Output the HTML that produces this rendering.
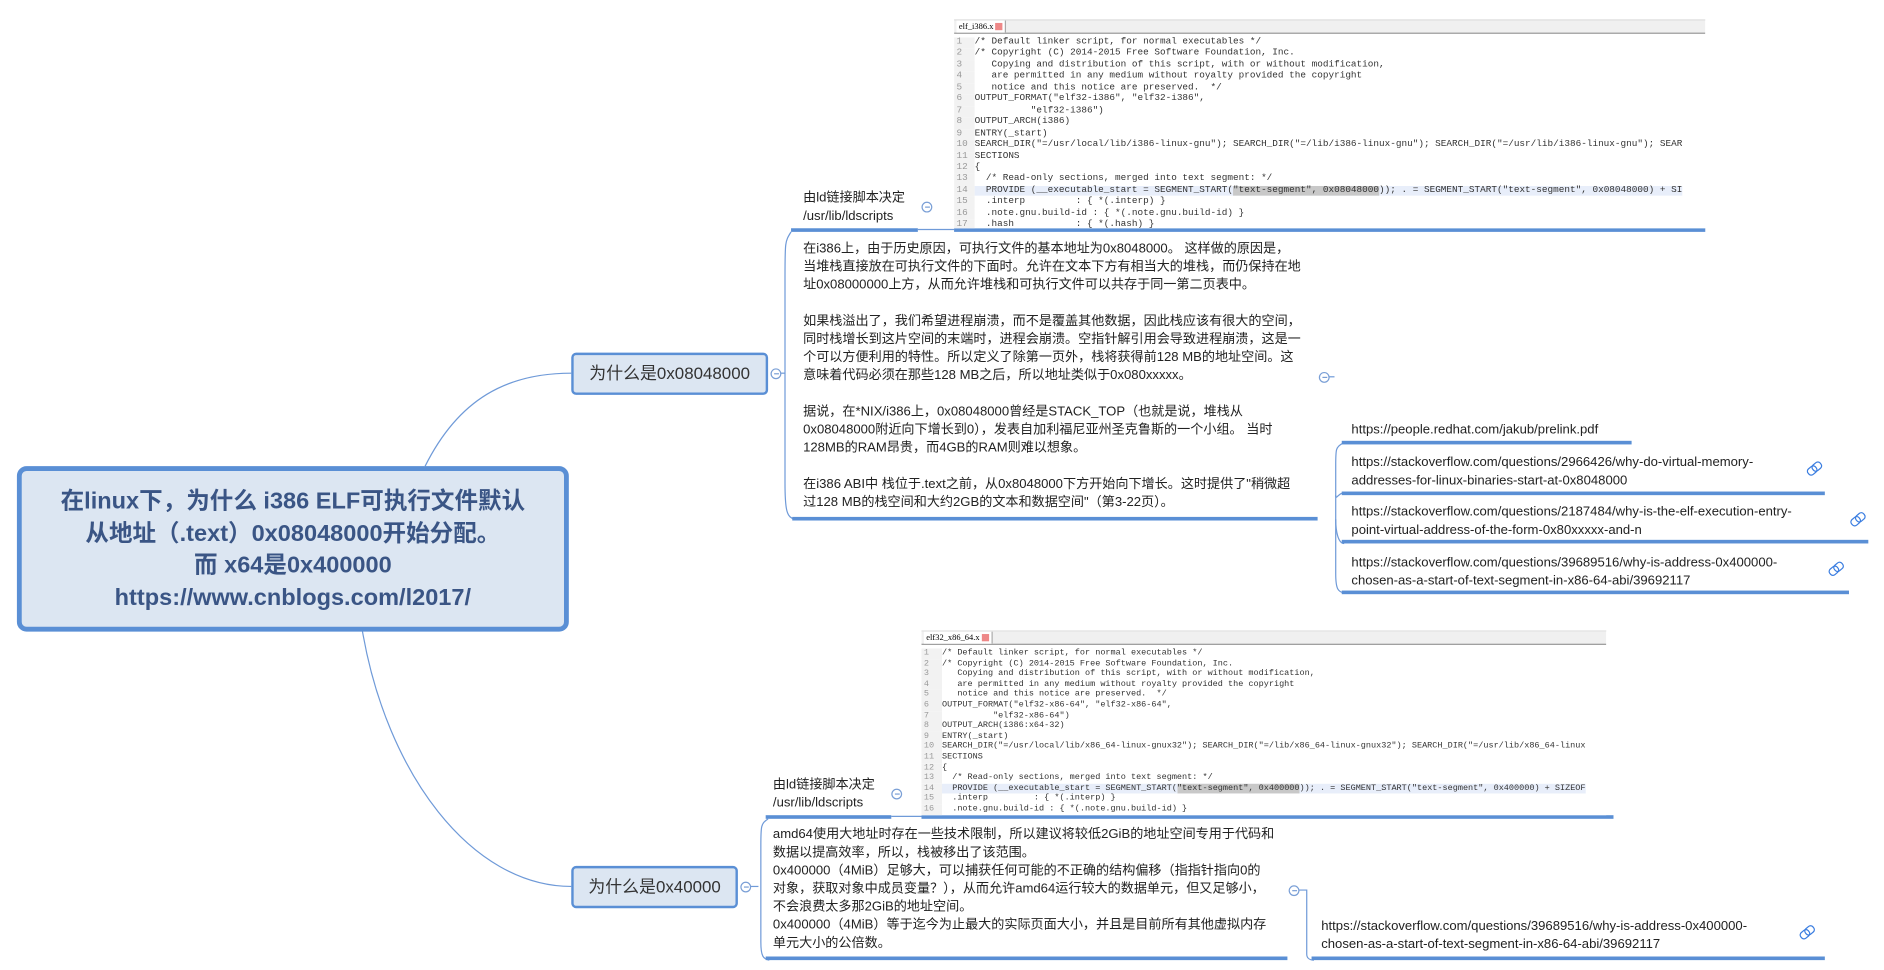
<!DOCTYPE html>
<html><head><meta charset="utf-8"><style>
*{margin:0;padding:0;box-sizing:border-box}
body{width:1884px;height:970px;overflow:hidden;background:#fff;font-family:"Liberation Sans","Noto Sans CJK SC",sans-serif}
#w{position:absolute;left:0;top:0;width:1560px;height:803px;transform:scale(1.2077);transform-origin:0 0}
.a{position:absolute}
.t{font-size:10.85px;line-height:15px;color:#222;white-space:nowrap}
.ul{position:absolute;height:2.5px;background:#5a8fd5}
.c{position:absolute;width:9px;height:9px;border:1px solid #7a9fd6;border-radius:50%;background:#fff}
.c:after{content:"";position:absolute;left:1.5px;top:3px;width:4px;height:1px;background:#7a9fd6}
.code{position:absolute;background:#fff;overflow:hidden;border-top:1px solid #ddd}
.code .hd{height:11px;background:#f0f0f0;border-bottom:1px solid #999;font-family:"Liberation Serif",serif;font-size:7px;line-height:10px;padding-left:2px}
.code .hd span{display:inline-block;background:#fff;border-right:1px solid #aaa;padding:0 2px}
.code .hd b{display:inline-block;width:6px;height:6px;background:#e88;vertical-align:middle}
.code pre{font-family:"Liberation Mono",monospace;color:#333;white-space:pre}
.code .ln{display:inline-block;width:17px;color:#999;background:#f2f2f2;padding-left:2px}
.hl{background:#e8eefa}
.sel{background:#c8c8c8}
.node{position:absolute;background:#dce6f2;border:2px solid #5a8fd5;border-radius:4px;font-size:14px;color:#333;text-align:center;white-space:nowrap}
.lk{position:absolute;width:12px;height:8px;transform:rotate(-40deg)}
.lk:before,.lk:after{content:"";position:absolute;top:0;width:7px;height:5px;border:1.5px solid #3a7de0;border-radius:3px}
.lk:before{left:0}.lk:after{left:5px}
</style></head><body><div id="w">

<svg class="a" style="left:0;top:0" width="1560" height="803">
<g fill="none" stroke="#6f9ad8" stroke-width="1">
<path d="M352 386 C380 330 420 309 473 309"/>
<path d="M300 522 C320 640 390 734 473 734"/>
<path d="M643 309 L650 309"/>
<path d="M655 192 C650 200 650 200 650 230 L650 400 C650 425 652 428 658 430"/>
<path d="M1100 312 L1105 312"/>
<path d="M1112 367 C1106 370 1106 372 1106 385 L1106 475 C1106 488 1108 490 1113 491"/>
<path d="M1106 410 C1106 415 1108 408 1113 408"/>
<path d="M1106 430 C1106 440 1108 450 1113 450"/>
<path d="M618 734 L628 734"/>
<path d="M636 678 C630 682 630 684 630 700 L630 780 C630 792 632 794 637 795"/>
<path d="M1075 737 L1082 737 L1082 790 C1082 793 1084 795 1088 795"/>
<path d="M760 190 L790 190"/>
<path d="M738 676 L763 676"/>
</g></svg>

<div class="a" style="left:14px;top:386px;width:457px;height:137px;background:#dce6f2;border:4px solid #5a8fd5;border-radius:8px;text-align:center;font-weight:bold;font-size:19.5px;line-height:26.5px;color:#3a5585;padding-top:12px">在linux下，为什么 i386 ELF可执行文件默认<br>从地址（.text）0x08048000开始分配。<br>而 x64是0x400000<br>https://www.cnblogs.com/l2017/</div>

<div class="node" style="left:473px;top:292px;width:163px;height:35px;line-height:31px">为什么是0x08048000</div>
<div class="c" style="left:638px;top:305px"></div>
<div class="node" style="left:473px;top:717px;width:138px;height:35px;line-height:31px">为什么是0x40000</div>
<div class="c" style="left:613px;top:730px"></div>

<div class="a t" style="left:665px;top:157px">由ld链接脚本决定<br>/usr/lib/ldscripts</div>
<div class="c" style="left:763px;top:167px"></div>
<div class="ul" style="left:655px;top:189px;width:105px"></div>
<div class="ul" style="left:790px;top:189px;width:622px"></div>

<div class="code" style="left:790px;top:16px;width:622px;height:173px">
<div class="hd"><span>elf_i386.x <b></b></span></div>
<pre style="font-size:7.75px;line-height:9.45px;margin-top:3px"><span class="ln">1</span>/* Default linker script, for normal executables */
<span class="ln">2</span>/* Copyright (C) 2014-2015 Free Software Foundation, Inc.
<span class="ln">3</span>   Copying and distribution of this script, with or without modification,
<span class="ln">4</span>   are permitted in any medium without royalty provided the copyright
<span class="ln">5</span>   notice and this notice are preserved.  */
<span class="ln">6</span>OUTPUT_FORMAT("elf32-i386", "elf32-i386",
<span class="ln">7</span>          "elf32-i386")
<span class="ln">8</span>OUTPUT_ARCH(i386)
<span class="ln">9</span>ENTRY(_start)
<span class="ln">10</span>SEARCH_DIR("=/usr/local/lib/i386-linux-gnu"); SEARCH_DIR("=/lib/i386-linux-gnu"); SEARCH_DIR("=/usr/lib/i386-linux-gnu"); SEAR
<span class="ln">11</span>SECTIONS
<span class="ln">12</span>{
<span class="ln">13</span>  /* Read-only sections, merged into text segment: */
<span class="ln">14</span><span class="hl">  PROVIDE (__executable_start = SEGMENT_START(<span class="sel">"text-segment", 0x08048000</span>)); . = SEGMENT_START("text-segment", 0x08048000) + SI</span>
<span class="ln">15</span>  .interp         : { *(.interp) }
<span class="ln">16</span>  .note.gnu.build-id : { *(.note.gnu.build-id) }
<span class="ln">17</span>  .hash           : { *(.hash) }</pre>
</div>

<div class="a t" style="left:665px;top:199px">在i386上，由于历史原因，可执行文件的基本地址为0x8048000。 这样做的原因是，<br>当堆栈直接放在可执行文件的下面时。允许在文本下方有相当大的堆栈，而仍保持在地<br>址0x08000000上方，从而允许堆栈和可执行文件可以共存于同一第二页表中。<br><br>如果栈溢出了，我们希望进程崩溃，而不是覆盖其他数据，因此栈应该有很大的空间，<br>同时栈增长到这片空间的末端时，进程会崩溃。空指针解引用会导致进程崩溃，这是一<br>个可以方便利用的特性。所以定义了除第一页外，栈将获得前128 MB的地址空间。这<br>意味着代码必须在那些128 MB之后，所以地址类似于0x080xxxxx。<br><br>据说，在*NIX/i386上，0x08048000曾经是STACK_TOP（也就是说，堆栈从<br>0x08048000附近向下增长到0），发表自加利福尼亚州圣克鲁斯的一个小组。 当时<br>128MB的RAM昂贵，而4GB的RAM则难以想象。<br><br>在i386 ABI中 栈位于.text之前，从0x8048000下方开始向下增长。这时提供了"稍微超<br>过128 MB的栈空间和大约2GB的文本和数据空间"（第3-22页）。</div>
<div class="ul" style="left:656px;top:428px;width:435px"></div>
<div class="c" style="left:1092px;top:308px"></div>

<div class="a t" style="left:1119px;top:349px">https://people.redhat.com/jakub/prelink.pdf</div>
<div class="ul" style="left:1111px;top:365px;width:240px"></div>
<div class="a t" style="left:1119px;top:376px">https://stackoverflow.com/questions/2966426/why-do-virtual-memory-<br>addresses-for-linux-binaries-start-at-0x8048000</div>
<div class="lk" style="left:1496px;top:385px"></div>
<div class="ul" style="left:1111px;top:407px;width:400px"></div>
<div class="a t" style="left:1119px;top:417px">https://stackoverflow.com/questions/2187484/why-is-the-elf-execution-entry-<br>point-virtual-address-of-the-form-0x80xxxxx-and-n</div>
<div class="lk" style="left:1532px;top:427px"></div>
<div class="ul" style="left:1111px;top:447px;width:436px"></div>
<div class="a t" style="left:1119px;top:459px">https://stackoverflow.com/questions/39689516/why-is-address-0x400000-<br>chosen-as-a-start-of-text-segment-in-x86-64-abi/39692117</div>
<div class="lk" style="left:1514px;top:468px"></div>
<div class="ul" style="left:1111px;top:489px;width:420px"></div>

<div class="a t" style="left:640px;top:643px">由ld链接脚本决定<br>/usr/lib/ldscripts</div>
<div class="c" style="left:738px;top:653px"></div>
<div class="ul" style="left:634px;top:675px;width:104px"></div>
<div class="ul" style="left:763px;top:675px;width:573px"></div>

<div class="code" style="left:763px;top:522px;width:567px;height:153px">
<div class="hd"><span>elf32_x86_64.x <b></b></span></div>
<pre style="font-size:7.05px;line-height:8.6px;margin-top:3px"><span class="ln">1</span>/* Default linker script, for normal executables */
<span class="ln">2</span>/* Copyright (C) 2014-2015 Free Software Foundation, Inc.
<span class="ln">3</span>   Copying and distribution of this script, with or without modification,
<span class="ln">4</span>   are permitted in any medium without royalty provided the copyright
<span class="ln">5</span>   notice and this notice are preserved.  */
<span class="ln">6</span>OUTPUT_FORMAT("elf32-x86-64", "elf32-x86-64",
<span class="ln">7</span>          "elf32-x86-64")
<span class="ln">8</span>OUTPUT_ARCH(i386:x64-32)
<span class="ln">9</span>ENTRY(_start)
<span class="ln">10</span>SEARCH_DIR("=/usr/local/lib/x86_64-linux-gnux32"); SEARCH_DIR("=/lib/x86_64-linux-gnux32"); SEARCH_DIR("=/usr/lib/x86_64-linux
<span class="ln">11</span>SECTIONS
<span class="ln">12</span>{
<span class="ln">13</span>  /* Read-only sections, merged into text segment: */
<span class="ln">14</span><span class="hl">  PROVIDE (__executable_start = SEGMENT_START(<span class="sel">"text-segment", 0x400000</span>)); . = SEGMENT_START("text-segment", 0x400000) + SIZEOF</span>
<span class="ln">15</span>  .interp         : { *(.interp) }
<span class="ln">16</span>  .note.gnu.build-id : { *(.note.gnu.build-id) }</pre>
</div>

<div class="a t" style="left:640px;top:684px">amd64使用大地址时存在一些技术限制，所以建议将较低2GiB的地址空间专用于代码和<br>数据以提高效率，所以，栈被移出了该范围。<br>0x400000（4MiB）足够大，可以捕获任何可能的不正确的结构偏移（指指针指向0的<br>对象，获取对象中成员变量？），从而允许amd64运行较大的数据单元，但又足够小，<br>不会浪费太多那2GiB的地址空间。<br>0x400000（4MiB）等于迄今为止最大的实际页面大小，并且是目前所有其他虚拟内存<br>单元大小的公倍数。</div>
<div class="ul" style="left:634px;top:792px;width:432px"></div>
<div class="c" style="left:1067px;top:733px"></div>

<div class="a t" style="left:1094px;top:760px">https://stackoverflow.com/questions/39689516/why-is-address-0x400000-<br>chosen-as-a-start-of-text-segment-in-x86-64-abi/39692117</div>
<div class="lk" style="left:1490px;top:769px"></div>
<div class="ul" style="left:1086px;top:792px;width:425px"></div>

</div></body></html>
